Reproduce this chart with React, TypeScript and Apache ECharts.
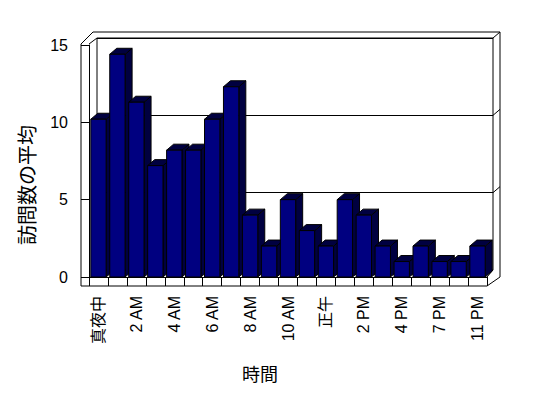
import React, { useEffect, useRef } from "react";
import * as echarts from "echarts";

const categories = [
  "真夜中", "1 AM", "2 AM", "3 AM", "4 AM", "5 AM", "6 AM", "7 AM", "8 AM", "9 AM", "10 AM", "11 AM",
  "正午", "1 PM", "2 PM", "3 PM", "4 PM", "5 PM", "7 PM", "9 PM", "11 PM",
];
const visits = [10.2, 14.4, 11.3, 7.2, 8.2, 8.2, 10.2, 12.3, 4, 2, 5, 3, 2, 5, 4, 2, 1, 2, 1, 1, 2];
const yTicks = { min: 0, max: 15, interval: 5 };
const yName = "訪問数の平均";
const xName = "時間";

// layout constants
const GL = 89, GT = 45, GW = 398, GH = 232;
const WDX = 8, WDY = -7; // wall depth offset
const BDX = 7, BDY = -6; // bar depth offset
const FRONT = "#000080";
const SHADE = "#000040";
const FONT = "'Liberation Sans', 'Noto Sans CJK JP', sans-serif";

export default function App() {
  const ref = useRef<HTMLDivElement>(null);
  useEffect(() => {
    if (!ref.current) return;
    const chart = echarts.init(ref.current, undefined, { renderer: "svg" });
    const GB = GT + GH, GR = GL + GW;
    const line = (x1: number, y1: number, x2: number, y2: number) => ({
      type: "line",
      shape: { x1, y1, x2, y2 },
      style: { stroke: "#000", lineWidth: 1 },
      silent: true,
    });
    chart.setOption({
      animation: false,
      backgroundColor: "#fff",
      grid: [
        { left: GL, top: GT, width: GW, height: GH, show: false },
        {
          left: GL + WDX, top: GT + WDY, width: GW - 2, height: GH,
          show: true, borderColor: "#000", borderWidth: 1, backgroundColor: "transparent",
        },
      ],
      xAxis: [
        {
          type: "category", gridIndex: 0, data: categories, boundaryGap: true,
          axisLine: { show: true, lineStyle: { color: "#000", width: 1 } },
          axisTick: { show: true, interval: 0, length: 9, lineStyle: { color: "#000" } },
          axisLabel: {
            interval: 1, rotate: 90, margin: 19, fontSize: 16, color: "#000", fontFamily: FONT,
          },
          splitLine: { show: false },
        },
        {
          type: "category", gridIndex: 1, data: categories, show: false,
        },
      ],
      yAxis: [
        {
          type: "value", gridIndex: 0, ...yTicks,
          axisLine: { show: true, lineStyle: { color: "#000", width: 1 } },
          axisTick: { show: true, length: 8, lineStyle: { color: "#000" } },
          axisLabel: { margin: 21, fontSize: 16, color: "#000", fontFamily: FONT },
          splitLine: { show: false },
        },
        {
          type: "value", gridIndex: 1, ...yTicks,
          axisLine: { show: false }, axisTick: { show: false }, axisLabel: { show: false },
          splitLine: { show: true, lineStyle: { color: "#000", width: 1 } },
        },
      ],
      graphic: [
        {
          type: "polyline",
          shape: {
            points: [
              [GL - 8, GB + 9], [GL - 8, GT - 1], [GL + 4, GT - 13], [GR + 13, GT - 13],
              [GR + 13, GB], [GR, GB + 9], [GL - 8, GB + 9],
            ],
          },
          style: { stroke: "#000", fill: null, lineWidth: 1 },
          silent: true,
        },
        line(GL, GT - 1, GL + WDX, GT + WDY),
        line(GR + 6, GT + WDY, GR + 13, GT - 13),
        line(GR, GB, GR + 6, GB + WDY),
        line(GR + 6, GT + WDY + GH / 3, GR + 13, GT + WDY + GH / 3 - 6),
        line(GR + 6, GT + WDY + (2 * GH) / 3, GR + 13, GT + WDY + (2 * GH) / 3 - 6),
        {
          type: "text", x: 28, y: 185, rotation: Math.PI / 2,
          style: { text: yName, fontSize: 20, fill: "#000", align: "center", verticalAlign: "middle", fontFamily: FONT },
        },
        {
          type: "text", x: 260, y: 375,
          style: { text: xName, fontSize: 18, fill: "#000", align: "center", verticalAlign: "middle", fontFamily: FONT },
        },
      ],
      series: [
        {
          type: "custom",
          xAxisIndex: 0, yAxisIndex: 0,
          data: visits.map((v, i) => [i, v]),
          encode: { x: 0, y: 1 },
          renderItem: (params: any, api: any) => {
            const i = api.value(0);
            const v = api.value(1);
            const base = api.coord([i, 0]);
            const top = api.coord([i, v]);
            const bw = api.size([1, 0])[0];
            const w = bw * 0.81;
            const L = base[0] - w / 2, R = base[0] + w / 2;
            const T = top[1], B = base[1];
            const st = (fill: string) => ({ fill, stroke: "#000", lineWidth: 1 });
            return {
              type: "group",
              children: [
                {
                  type: "polygon",
                  shape: { points: [[R, T], [R + BDX, T + BDY], [R + BDX, B + BDY], [R, B]] },
                  style: st(SHADE),
                },
                {
                  type: "polygon",
                  shape: { points: [[L, T], [L + BDX, T + BDY], [R + BDX, T + BDY], [R, T]] },
                  style: st(SHADE),
                },
                {
                  type: "rect",
                  shape: { x: L, y: T, width: R - L, height: B - T },
                  style: st(FRONT),
                },
              ],
            };
          },
        },
      ],
    });
    return () => chart.dispose();
  }, []);
  return (
    <div
      ref={ref}
      style={{ position: "fixed", left: 0, top: 0, width: 548, height: 398, background: "#fff" }}
    />
  );
}
